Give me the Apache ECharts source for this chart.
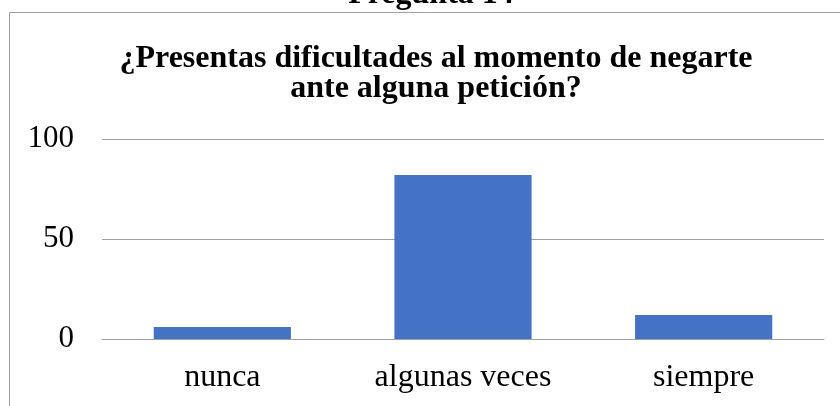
<!DOCTYPE html>
<html>
<head>
<meta charset="utf-8">
<script src="https://cdn.jsdelivr.net/npm/echarts@6/dist/echarts.min.js"></script>
<style>
  html, body { margin: 0; padding: 0; background: #fff; }
  #chart { width: 840px; height: 406px; }
</style>
</head>
<body>
<div id="chart"></div>
<script>
const categories = ["nunca", "algunas veces", "siempre"];
const values = [6, 82, 12];
const yTicks = [0, 50, 100];

const serif = "'Liberation Serif', 'DejaVu Serif', serif";

const chart = echarts.init(document.getElementById("chart"));

chart.setOption({
  animation: false,
  backgroundColor: "#fff",
  graphic: [
    {
      type: "rect",
      shape: { x: 9.5, y: 12.5, width: 900, height: 500 },
      style: { fill: "none", stroke: "#a0a0a0", lineWidth: 1 },
      z: -1
    },
    {
      type: "text",
      x: 431,
      y: 11,
      style: {
        text: "Pregunta 14",
        font: "bold 32px " + serif,
        fill: "#000",
        align: "center",
        verticalAlign: "bottom"
      }
    }
  ],
  title: {
    text: "¿Presentas dificultades al momento de negarte\nante alguna petición?",
    left: 431,
    textAlign: "center",
    top: 39,
    textStyle: {
      fontFamily: serif,
      fontWeight: "bold",
      fontSize: 32,
      lineHeight: 30,
      color: "#000"
    }
  },
  grid: {
    left: 102,
    right: 16,
    top: 139,
    bottom: 67
  },
  xAxis: {
    type: "category",
    data: categories,
    axisLine: { lineStyle: { color: "#a0a0a0", width: 1 } },
    axisTick: { show: false },
    axisLabel: {
      fontFamily: serif,
      fontSize: 32,
      color: "#000",
      margin: 23
    }
  },
  yAxis: {
    type: "value",
    min: yTicks[0],
    max: yTicks[yTicks.length - 1],
    interval: yTicks[1] - yTicks[0],
    axisLine: { show: false },
    axisTick: { show: false },
    splitLine: { lineStyle: { color: "#a0a0a0", width: 1 } },
    axisLabel: {
      fontFamily: serif,
      fontSize: 31,
      color: "#000",
      margin: 28
    }
  },
  series: [
    {
      type: "bar",
      data: values,
      barWidth: "57%",
      itemStyle: { color: "#4472C4" }
    }
  ]
});
</script>
</body>
</html>
